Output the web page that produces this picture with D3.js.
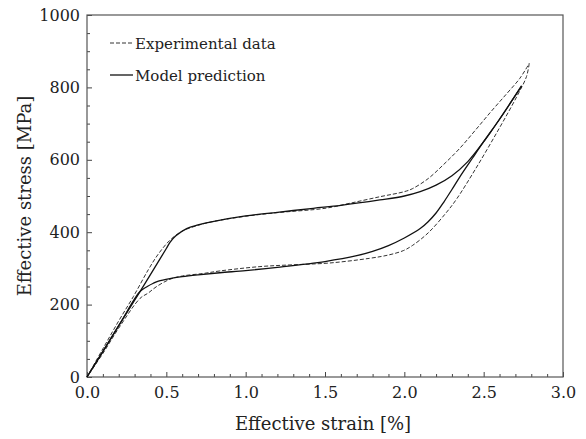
<!DOCTYPE html>
<html lang="en">
<head>
<meta charset="utf-8">
<title>Effective stress-strain</title>
<script src="https://d3js.org/d3.v7.min.js"></script>
<style type="text/css">
  body { margin: 0; background: #fff; }
  svg { display: block; }
  .tick text { font-family: "DejaVu Serif", serif; font-size: 16px; fill: #222; }
  .title { font-family: "DejaVu Serif", serif; font-size: 18px; fill: #222; }
  .legend { font-family: "DejaVu Serif", serif; font-size: 15px; fill: #222; }
</style>
</head>
<body>
<svg width="586" height="439"></svg>
<script type="text/javascript">

// experimental data: loading then unloading (strain %, stress MPa)
const expLoadX = [0, 0.1, 0.2, 0.292, 0.386, 0.45, 0.523, 0.6, 0.7, 0.8, 1.0, 1.2, 1.5, 1.657, 1.846, 2.0, 2.05, 2.15, 2.25, 2.35, 2.45, 2.55, 2.65, 2.728, 2.787];
const expLoadY = [0, 78, 155, 222, 296, 340, 378, 403, 419, 430, 444, 454, 466, 480, 498, 512, 520, 548, 588, 632, 683, 735, 785, 825, 866];
const expUnloadX = [2.787, 2.77, 2.708, 2.58, 2.445, 2.33, 2.266, 2.15, 2.05, 1.993, 1.9, 1.783, 1.531, 1.3, 1.09, 0.838, 0.733, 0.6, 0.523, 0.439, 0.386, 0.334, 0.2, 0.1, 0];
const expUnloadY = [866, 830, 774, 673, 572, 492, 455, 398, 363, 349, 337, 328, 315, 310, 305, 293, 286, 279, 270, 250, 232, 217, 135, 65, 0];

// model prediction
const modLoadX = [0, 0.1, 0.2, 0.334, 0.418, 0.5, 0.523, 0.56, 0.628, 0.7, 0.8, 1.0, 1.2, 1.426, 1.6, 1.846, 2.0, 2.1, 2.2, 2.3, 2.4, 2.5, 2.6, 2.739];
const modLoadY = [0, 70, 142, 236, 296, 355, 372, 390, 410, 420, 430, 445, 455, 466, 474, 489, 500, 512, 530, 556, 595, 650, 712, 804];
const modUnloadX = [2.739, 2.6, 2.5, 2.43, 2.35, 2.3, 2.25, 2.2, 2.15, 2.1, 2.0, 1.9, 1.8, 1.7, 1.5, 1.2, 1.0, 0.838, 0.7, 0.6, 0.523, 0.45, 0.418, 0.38, 0.334, 0.2, 0];
const modUnloadY = [804, 712, 650, 605, 553, 518, 484, 453, 429, 410, 384, 363, 347, 335, 319, 303, 294, 288, 282, 277, 272, 265, 259, 250, 236, 142, 0];

const xMajor = [0, 0.5, 1.0, 1.5, 2.0, 2.5, 3.0];
const yMajor = [0, 200, 400, 600, 800, 1000];

const margin = {left: 87, right: 23, top: 15, bottom: 62};
const W = 586, H = 439;
const svg = d3.select("svg");

const x = d3.scaleLinear().domain([0, 3]).range([margin.left, W - margin.right]);
const y = d3.scaleLinear().domain([0, 1000]).range([H - margin.bottom, margin.top]);

const xMinor = d3.range(0, 31).map(d => d / 10).filter(d => Math.round(d * 10) % 5 !== 0);
const yMinor = d3.range(0, 1001, 50).filter(d => d % 200 !== 0);

// minor ticks
svg.append("g")
   .attr("transform", "translate(0," + y(0) + ")")
   .call(d3.axisBottom(x).tickValues(xMinor).tickSize(-3).tickFormat(""))
   .call(g => g.select(".domain").remove());
svg.append("g")
   .attr("transform", "translate(" + x(0) + ",0)")
   .call(d3.axisLeft(y).tickValues(yMinor).tickSize(-3).tickFormat(""))
   .call(g => g.select(".domain").remove());

// major ticks + labels
svg.append("g")
   .attr("transform", "translate(0," + y(0) + ")")
   .call(d3.axisBottom(x).tickValues(xMajor).tickSize(-5).tickPadding(10).tickFormat(d3.format(".1f")))
   .call(g => g.select(".domain").remove());
svg.append("g")
   .attr("transform", "translate(" + x(0) + ",0)")
   .call(d3.axisLeft(y).tickValues(yMajor).tickSize(-5).tickPadding(7).tickFormat(d3.format("d")))
   .call(g => g.select(".domain").remove());

svg.selectAll(".tick line").attr("stroke", "#444");

// frame
svg.append("rect")
   .attr("x", x(0)).attr("y", y(1000))
   .attr("width", x(3) - x(0)).attr("height", y(0) - y(1000))
   .attr("fill", "none").attr("stroke", "#555").attr("stroke-width", 1.2);

const line = d3.line()
   .x(d => x(d[0])).y(d => y(d[1]))
   .curve(d3.curveCatmullRom.alpha(0.5));

const zip = (a, b) => a.map((v, i) => [v, b[i]]);

// experimental (dashed)
[zip(expLoadX, expLoadY), zip(expUnloadX, expUnloadY)].forEach(pts => {
  svg.append("path")
     .attr("d", line(pts))
     .attr("fill", "none").attr("stroke", "#333")
     .attr("stroke-width", 1).attr("stroke-dasharray", "4,2");
});

// model (solid)
[zip(modLoadX, modLoadY), zip(modUnloadX, modUnloadY)].forEach(pts => {
  svg.append("path")
     .attr("d", line(pts))
     .attr("fill", "none").attr("stroke", "#111")
     .attr("stroke-width", 1.3);
});

// legend
const legend = svg.append("g");
legend.append("line").attr("x1", 110).attr("x2", 133).attr("y1", 43).attr("y2", 43)
      .attr("stroke", "#333").attr("stroke-width", 1).attr("stroke-dasharray", "4,2");
legend.append("text").attr("class", "legend").attr("x", 135).attr("y", 48.5).text("Experimental data");
legend.append("line").attr("x1", 110).attr("x2", 133).attr("y1", 75).attr("y2", 75)
      .attr("stroke", "#111").attr("stroke-width", 1.3);
legend.append("text").attr("class", "legend").attr("x", 135).attr("y", 80.5).text("Model prediction");

// axis titles
svg.append("text").attr("class", "title")
   .attr("x", (x(0) + x(3)) / 2 - 2).attr("y", 430)
   .attr("text-anchor", "middle")
   .text("Effective strain [%]");

svg.append("text").attr("class", "title")
   .attr("transform", "translate(31," + (y(0) + y(1000)) / 2 + ") rotate(-90)")
   .attr("text-anchor", "middle")
   .text("Effective stress [MPa]");

</script>
</body>
</html>
